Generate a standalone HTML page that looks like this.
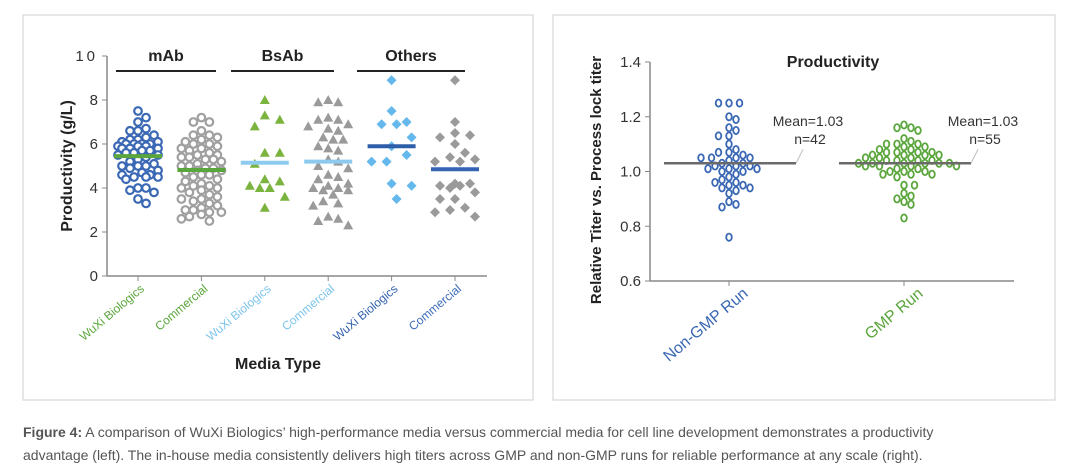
<!DOCTYPE html>
<html><head><meta charset="utf-8">
<style>
body{margin:0;background:#fff;width:1080px;height:472px;overflow:hidden;font-family:"Liberation Sans",sans-serif}
svg{display:block}
</style></head>
<body>
<svg id="chart" width="1080" height="472" viewBox="0 0 1080 472" xmlns="http://www.w3.org/2000/svg" font-family="Liberation Sans, sans-serif">
<rect x="23" y="15" width="510" height="385" fill="none" stroke="#cfcfcf"/>
<rect x="553" y="15" width="502" height="385" fill="none" stroke="#cfcfcf"/>
<g id="left"></g>
<g id="right"></g>
<text x="23" y="437" font-size="14" fill="#555"><tspan font-weight="bold">Figure 4:</tspan> A comparison of WuXi Biologics’ high-performance media versus commercial media for cell line development demonstrates a productivity</text>
<text x="23" y="460" font-size="14" fill="#555">advantage (left). The in-house media consistently delivers high titers across GMP and non-GMP runs for reliable performance at any scale (right).</text>
</svg>
<script>
// ---- Left chart data ----
const leftCategories = ["WuXi Biologics","Commercial","WuXi Biologics","Commercial","WuXi Biologics","Commercial"];
const leftGroups = ["mAb","BsAb","Others"];
const leftYTicks = [0,2,4,6,8,10];
const mabWuxi = [7.5,7.2,7.0,6.7,6.6,6.6,6.4,6.3,6.2,6.2,6.1,6.1,6.0,6.0,6.0,6.0,5.9,5.9,5.9,5.8,5.8,5.8,5.7,5.7,5.6,5.6,5.5,5.5,5.4,5.3,5.2,5.1,5.0,5.0,5.0,4.9,4.8,4.7,4.6,4.6,4.5,4.5,4.5,4.4,4.0,4.0,3.9,3.8,3.5,3.3];
const mabComm = [7.2,7.0,7.0,6.6,6.4,6.4,6.3,6.2,6.1,6.0,6.0,5.9,5.8,5.8,5.7,5.6,5.5,5.5,5.4,5.4,5.3,5.3,5.2,5.1,5.0,5.0,4.9,4.9,4.8,4.8,4.7,4.6,4.6,4.5,4.4,4.3,4.2,4.1,4.1,4.0,4.0,3.9,3.8,3.7,3.6,3.5,3.5,3.4,3.3,3.2,3.1,3.0,3.0,2.9,2.9,2.8,2.7,2.6,2.5];
const bsWuxi = [8.0,7.3,7.1,6.8,5.6,5.6,5.1,4.4,4.3,4.1,4.0,4.0,3.6,3.1];
const bsComm = [8.0,7.9,7.9,7.2,7.1,7.1,6.9,6.8,6.7,6.6,6.3,6.2,6.2,5.9,5.8,5.7,5.3,5.2,5.0,4.9,4.6,4.5,4.4,4.2,4.1,4.0,4.0,3.9,3.9,3.7,3.4,3.3,3.2,2.7,2.6,2.5,2.3];
const otWuxi = [8.9,7.5,7.0,6.9,6.9,6.3,5.9,5.5,5.2,5.2,4.2,4.1,3.5];
const otComm = [8.9,7.0,6.5,6.4,6.3,6.0,5.6,5.4,5.3,5.2,5.2,4.2,4.2,4.1,4.1,4.0,3.8,3.5,3.5,3.1,3.0,2.9,2.7];
const leftMeans = [5.45,4.82,5.15,5.2,5.9,4.85];
// ---- Right chart data ----
const rightCategories = ["Non-GMP Run","GMP Run"];
const rightYTicks = [0.6,0.8,1.0,1.2,1.4];
const nonGmp = [1.25,1.25,1.25,1.20,1.19,1.16,1.15,1.13,1.13,1.10,1.08,1.07,1.07,1.06,1.05,1.05,1.05,1.05,1.04,1.03,1.03,1.02,1.02,1.02,1.01,1.01,1.01,1.00,1.00,0.99,0.98,0.97,0.96,0.96,0.95,0.95,0.94,0.94,0.93,0.92,0.89,0.88,0.87,0.76];
const gmp = [1.17,1.16,1.16,1.15,1.12,1.11,1.10,1.10,1.10,1.09,1.09,1.08,1.08,1.07,1.07,1.07,1.07,1.06,1.06,1.06,1.06,1.05,1.05,1.05,1.04,1.04,1.04,1.04,1.03,1.03,1.03,1.03,1.03,1.03,1.02,1.02,1.02,1.02,1.01,1.01,1.00,1.00,1.00,0.99,0.99,0.99,0.98,0.95,0.95,0.92,0.91,0.90,0.89,0.88,0.83];
const rightMeans = [1.03,1.03];
const rightN = [42,55];

const NS="http://www.w3.org/2000/svg";
function mk(parent,tag,attrs,text){const e=document.createElementNS(NS,tag);for(const k in attrs)e.setAttribute(k,attrs[k]);if(text!==undefined)e.textContent=text;parent.appendChild(e);return e;}
// collision swarm clamped to +-maxW; if no free slot, choose least-crowded slot
function swarm(vals,yf,cx,step,r,maxW){
  const pts=[];const order=vals.map((v,i)=>i).sort((a,b)=>vals[b]-vals[a]);
  const nSteps=Math.floor(maxW/step);
  for(const i of order){const y=yf(vals[i]);let best=null,bestD=-1;
    for(let k=0;k<=2*nSteps;k++){const off=(k%2?1:-1)*Math.ceil(k/2)*step;const x=cx+off;
      let dmin=Infinity;pts.forEach(p=>{const d=Math.hypot(p.x-x,p.y-y);if(d<dmin)dmin=d;});
      if(dmin>=r){best=x;bestD=Infinity;break;}
      if(dmin>bestD){bestD=dmin;best=x;}}
    pts.push({x:best,y});}
  return pts;}

// ---- Left ----
const L=document.getElementById('left');
const ly=v=>276-v*22;
const lx=i=>138+i*63.4;
mk(L,'line',{x1:107,y1:56,x2:107,y2:276,stroke:'#888','stroke-width':1.5});
mk(L,'line',{x1:107,y1:276,x2:487,y2:276,stroke:'#888','stroke-width':1.5});
leftYTicks.forEach(t=>{
  mk(L,'line',{x1:102,y1:ly(t),x2:107,y2:ly(t),stroke:'#888'});
  const tx=mk(L,'text',{x:98,y:ly(t)+5,'text-anchor':'end','font-size':15,fill:'#333','letter-spacing':t===10?3:0},String(t));
  
  
});
const catColors=['#5aa63c','#5aa63c','#7cc4ea','#7cc4ea','#3462b0','#3d6cb8'];
leftCategories.forEach((c,i)=>{
  mk(L,'line',{x1:lx(i),y1:276,x2:lx(i),y2:281,stroke:'#888'});
  const t=mk(L,'text',{transform:`translate(${lx(i)+7},290) rotate(-40)`,'text-anchor':'end','font-size':12,fill:catColors[i]},c);
  
  
});
const grpX=[[116,216],[231,334],[357,465]];
leftGroups.forEach((g,i)=>{
  mk(L,'line',{x1:grpX[i][0],y1:71,x2:grpX[i][1],y2:71,stroke:'#222','stroke-width':2});
  const t=mk(L,'text',{x:(grpX[i][0]+grpX[i][1])/2,y:61,'text-anchor':'middle','font-size':16,'font-weight':'bold',fill:'#222'},g);
  
  
});
let yt=mk(L,'text',{transform:'translate(72,166) rotate(-90)','text-anchor':'middle','font-size':16,'font-weight':'bold',fill:'#222'},'Productivity (g/L)');


let xt=mk(L,'text',{x:278,y:369,'text-anchor':'middle','font-size':16,'font-weight':'bold',fill:'#222'},'Media Type');



function drawMarker(g,shape,x,y,color){
  if(shape==='circle')return mk(g,'circle',{cx:x,cy:y,r:3.8,fill:'#fff',stroke:color,'stroke-width':2.2});
  if(shape==='tri')return mk(g,'polygon',{points:`${x},${y-5} ${x+5},${y+4} ${x-5},${y+4}`,fill:color});
  return mk(g,'polygon',{points:`${x},${y-5} ${x+5},${y} ${x},${y+5} ${x-5},${y}`,fill:color});
}
const series=[[mabWuxi,'circle','#3a68b4',4,8,23],[mabComm,'circle','#a0a0a0',4,8,23],[bsWuxi,'tri','#7bb33f',5,14,22],[bsComm,'tri','#9a9a9a',5,10,22],[otWuxi,'dia','#64b8ec',5,16,24],[otComm,'dia','#9a9a9a',5,11,24]];
series.forEach((s,i)=>{
  const g=mk(L,'g',{});
  
  
  swarm(s[0],ly,lx(i),s[3],s[4],s[5]).forEach(p=>{
    const m=drawMarker(g,s[1],p.x,p.y,s[2]);
    
    
  });
});
const meanColors=['#5aa63c','#5aa63c','#8ccbee','#8ccbee','#2f5ea8','#3464b2'];
leftMeans.forEach((m,i)=>{
  const l=mk(L,'line',{x1:lx(i)-24,y1:ly(m),x2:lx(i)+24,y2:ly(m),stroke:meanColors[i],'stroke-width':4});
  
  
});

// ---- Right ----
const R=document.getElementById('right');
const ry=v=>281-(v-0.6)*273.75;
const rx=i=>729+i*175;
mk(R,'line',{x1:650,y1:62,x2:650,y2:281,stroke:'#888','stroke-width':1.5});
mk(R,'line',{x1:650,y1:281,x2:1014,y2:281,stroke:'#888','stroke-width':1.5});
rightYTicks.forEach(t=>{
  mk(R,'line',{x1:645,y1:ry(t),x2:650,y2:ry(t),stroke:'#888'});
  const tx=mk(R,'text',{x:641,y:ry(t)+5,'text-anchor':'end','font-size':15,fill:'#333'},t.toFixed(1));
  
  
});
const rColors=['#3a68b4','#5aa63c'];
rightCategories.forEach((c,i)=>{
  mk(R,'line',{x1:rx(i),y1:281,x2:rx(i),y2:286,stroke:'#888'});
  const t=mk(R,'text',{transform:`translate(${rx(i)+20},295) rotate(-40)`,'text-anchor':'end','font-size':16,fill:rColors[i]},c);
  
  
});
let rt=mk(R,'text',{x:833,y:67,'text-anchor':'middle','font-size':16,'font-weight':'bold',fill:'#222'},'Productivity');


let ryt=mk(R,'text',{transform:'translate(601,180) rotate(-90)','text-anchor':'middle','font-size':15,'font-weight':'bold',fill:'#222'},'Relative Titer vs. Process lock titer');


[nonGmp,gmp].forEach((vals,i)=>{
  const g=mk(R,'g',{});
  
  
  swarm(vals,ry,rx(i),3.5,7.5,64).forEach(p=>{
    const m=mk(g,'ellipse',{cx:p.x,cy:p.y,rx:2.8,ry:3.6,fill:'#fff',stroke:rColors[i],'stroke-width':1.8});
    
    
  });
});
rightMeans.forEach((m,i)=>{
  const l=mk(R,'line',{x1:rx(i)-65,y1:ry(m),x2:rx(i)+67,y2:ry(m),stroke:'#6a6a6a','stroke-width':2.5});
  
  
  mk(R,'line',{x1:rx(i)+67,y1:ry(m),x2:rx(i)+74,y2:ry(m)-14,stroke:'#bbb'});
  const a=mk(R,'text',{x:rx(i)+79,y:126,'text-anchor':'middle','font-size':14,fill:'#333'},'Mean='+m.toFixed(2));
  
  
  const b=mk(R,'text',{x:rx(i)+81,y:144,'text-anchor':'middle','font-size':14,fill:'#333'},'n='+rightN[i]);
  
  
});
</script>
</body></html>
